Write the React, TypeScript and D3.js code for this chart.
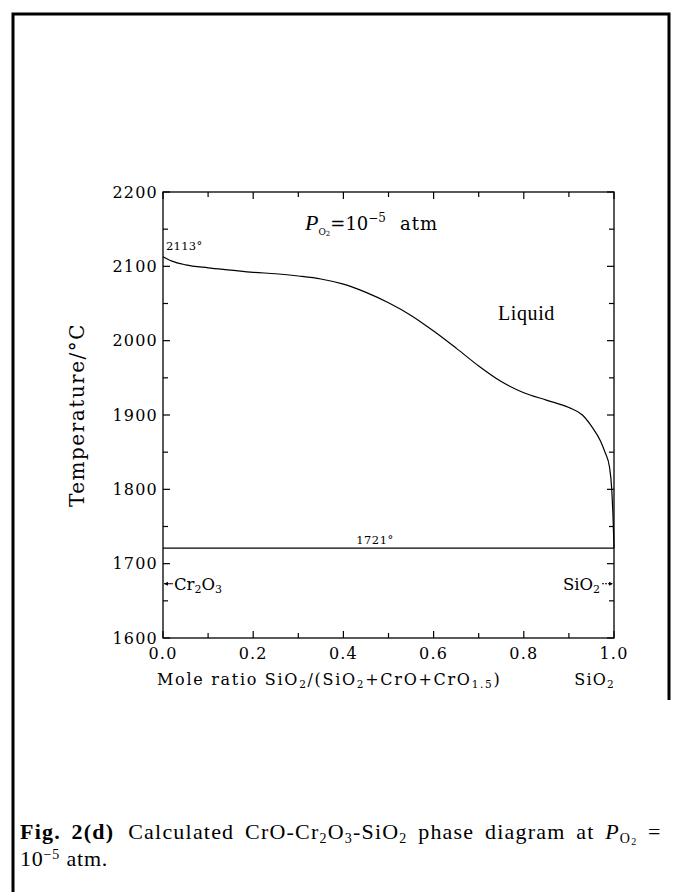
import React from "react";
import * as d3 from "d3";

const liquidusX = [0, 0.02, 0.05, 0.1, 0.15, 0.2, 0.25, 0.3, 0.35, 0.4, 0.45, 0.5, 0.55, 0.6, 0.65, 0.7, 0.75, 0.8, 0.85, 0.9, 0.93, 0.95, 0.97, 0.98, 0.99, 0.995, 0.998, 1.0];
const liquidusT = [2113, 2107, 2102, 2098, 2095, 2092, 2090, 2087, 2083, 2076, 2065, 2051, 2034, 2013, 1990, 1966, 1945, 1930, 1920, 1910, 1900, 1885, 1865, 1850, 1830, 1800, 1760, 1721];
const eutecticT = 1721;
const xTickLabels = ["0.0", "0.2", "0.4", "0.6", "0.8", "1.0"];
const xTickValues = [0, 0.2, 0.4, 0.6, 0.8, 1.0];
const yTickValues = [1600, 1700, 1800, 1900, 2000, 2100, 2200];

const W = 675, H = 892;
const L = 163, R = 614, T = 192, B = 638;

export default function App() {
  const x = d3.scaleLinear().domain([0, 1]).range([L, R]);
  const y = d3.scaleLinear().domain([1600, 2200]).range([B, T]);
  const pts: [number, number][] = liquidusX.map((v, i) => [v, liquidusT[i]]);
  const line = d3.line<[number, number]>().x(d => x(d[0])).y(d => y(d[1])).curve(d3.curveMonotoneX);
  const minorX = d3.range(0, 1.0001, 0.1);
  const minorY = d3.range(1600, 2200.1, 50);
  const mono = "'DejaVu Serif', serif";
  const times = "'Liberation Serif', 'Times New Roman', serif";
  return (
    <svg width={W} height={H} style={{ position: "absolute", left: 0, top: 0, background: "#fff" }}>
      {/* outer frame */}
      <path d={`M13,${H} L13,14 L669,14 L669,700`} fill="none" stroke="#000" strokeWidth={3} />
      {/* plot box */}
      <rect x={L} y={T} width={R - L} height={B - T} fill="none" stroke="#000" strokeWidth={1.3} />
      {/* x ticks */}
      {minorX.map((v, i) => {
        const major = i % 2 === 0;
        const len = major ? 7 : 5;
        return (
          <g key={"xt" + i}>
            <line x1={x(v)} x2={x(v)} y1={B} y2={B - len} stroke="#000" strokeWidth={1.2} />
            <line x1={x(v)} x2={x(v)} y1={T} y2={T + len} stroke="#000" strokeWidth={1.2} />
          </g>
        );
      })}
      {minorY.map((v, i) => {
        const major = i % 2 === 0;
        const len = major ? 7 : 5;
        return (
          <g key={"yt" + i}>
            <line x1={L} x2={L + len} y1={y(v)} y2={y(v)} stroke="#000" strokeWidth={1.2} />
            <line x1={R} x2={R - len} y1={y(v)} y2={y(v)} stroke="#000" strokeWidth={1.2} />
          </g>
        );
      })}
      {xTickValues.map((v, i) => (
        <text key={"xl" + i} x={x(v)} y={B + 21} textAnchor="middle" fontFamily={mono} fontSize={16} letterSpacing={1.2}>{xTickLabels[i]}</text>
      ))}
      {yTickValues.map((v, i) => (
        <text key={"yl" + i} x={L - 5} y={y(v) + 5.5} textAnchor="end" fontFamily={mono} fontSize={16} letterSpacing={1.2}>{String(v)}</text>
      ))}
      {/* liquidus */}
      <path d={line(pts) || ""} fill="none" stroke="#000" strokeWidth={1.2} />
      {/* eutectic line */}
      <line x1={x(0)} x2={x(1)} y1={y(eutecticT)} y2={y(eutecticT)} stroke="#000" strokeWidth={1.3} />
      <text x={x(0.47)} y={y(eutecticT) - 4} textAnchor="middle" fontFamily={mono} fontSize={11.5} letterSpacing={0.5}>1721°</text>
      <text x={L + 3} y={y(2113) - 7} fontFamily={mono} fontSize={11.5} letterSpacing={0.3}>2113°</text>
      {/* P_O2 label */}
      <text x={305} y={230} fontFamily={mono} fontSize={18}>
        <tspan fontStyle="italic" fontFamily={times} fontSize={22}>P</tspan>
        <tspan fontSize={9} dy={5}>O</tspan>
        <tspan fontSize={7} dy={1}>2</tspan>
        <tspan dy={-6} fontSize={18}>=10</tspan>
        <tspan fontSize={12} dy={-8}>−5</tspan>
        <tspan dy={8} dx={14} letterSpacing={1}>atm</tspan>
      </text>
      <text x={498} y={320} fontFamily={times} fontSize={20} letterSpacing={0.6}>Liquid</text>
      {/* Cr2O3 arrow label */}
      <line x1={L + 1} x2={L + 10} y1={y(1673)} y2={y(1673)} stroke="#000" strokeWidth={1} />
      <path d={`M${L + 1},${y(1673)} l4,-2 l0,4 z`} fill="#000" />
      <text x={L + 11} y={y(1673) + 6} fontFamily={mono} fontSize={16.5}>
        Cr<tspan fontSize={11} dy={3}>2</tspan><tspan dy={-3}>O</tspan><tspan fontSize={11} dy={3}>3</tspan>
      </text>
      <text x={R - 14} y={y(1673) + 6} textAnchor="end" fontFamily={mono} fontSize={16.5}>
        SiO<tspan fontSize={11} dy={3}>2</tspan>
      </text>
      <line x1={R - 12} x2={R - 2} y1={y(1673)} y2={y(1673)} stroke="#000" strokeWidth={1} strokeDasharray="2,1" />
      <path d={`M${R - 1},${y(1673)} l-4,-2 l0,4 z`} fill="#000" />
      {/* axis titles */}
      <text x={157} y={685} fontFamily={mono} fontSize={16} letterSpacing={1.7}>
        Mole ratio  SiO<tspan fontSize={10.5} dy={3}>2</tspan><tspan dy={-3}>/(SiO</tspan><tspan fontSize={10.5} dy={3}>2</tspan><tspan dy={-3}>+CrO+CrO</tspan><tspan fontSize={10.5} dy={3}>1.5</tspan><tspan dy={-3}>)</tspan>
      </text>
      <text x={615} y={685} textAnchor="end" fontFamily={mono} fontSize={16} letterSpacing={1.2}>
        SiO<tspan fontSize={10.5} dy={3}>2</tspan>
      </text>
      <text transform={`translate(84,${415}) rotate(-90)`} textAnchor="middle" fontFamily={mono} fontSize={20} letterSpacing={1.5}>Temperature/°C</text>
      {/* caption */}
      <text x={20} y={839} fontFamily={times} fontSize={22} letterSpacing={1.2} wordSpacing={4}>
        <tspan fontWeight="bold">Fig. 2(d)</tspan>
        <tspan dx={14}>Calculated CrO-Cr</tspan><tspan fontSize={14} dy={4}>2</tspan><tspan dy={-4}>O</tspan><tspan fontSize={14} dy={4}>3</tspan><tspan dy={-4}>-SiO</tspan><tspan fontSize={14} dy={4}>2</tspan><tspan dy={-4}> phase diagram at </tspan><tspan fontStyle="italic">P</tspan><tspan fontSize={14} dy={4}>O</tspan><tspan fontSize={10} dy={2}>2</tspan><tspan dy={-6}> =</tspan>
      </text>
      <text x={20} y={866} fontFamily={times} fontSize={22} letterSpacing={0.8}>
        10<tspan fontSize={14} dy={-7}>−5</tspan><tspan dy={7}> atm.</tspan>
      </text>
    </svg>
  );
}
